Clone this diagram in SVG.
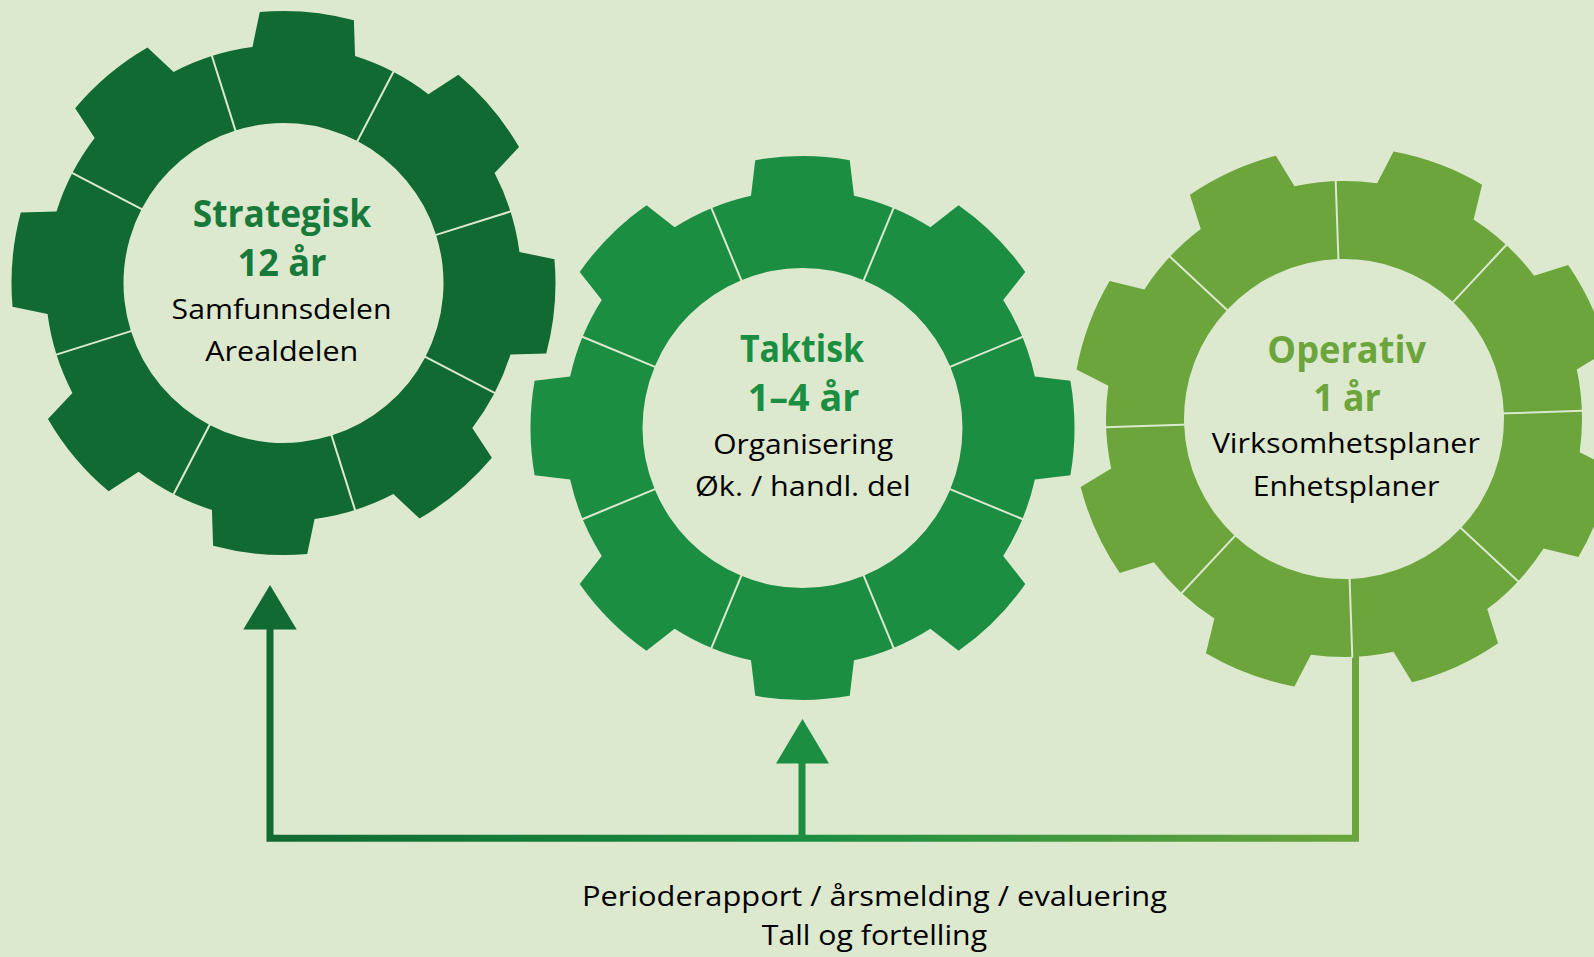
<svg xmlns="http://www.w3.org/2000/svg" xmlns:xlink="http://www.w3.org/1999/xlink" width="1594" height="957" viewBox="0 0 1594 957">
  <style>
    .bg { fill: #dce9cf; }
    .div { stroke: #dce9cf; stroke-width: 2; fill: none; }
    .title { font-family: "Open Sans", "Noto Sans", "Liberation Sans", sans-serif; font-weight: 700; font-size: 37px; text-anchor: middle; }
    .body { font-family: "Open Sans", "Noto Sans", "Liberation Sans", sans-serif; font-weight: 400; font-size: 27.5px; text-anchor: middle; fill: #000000; }
    .g1 { fill: #106a32; }
    .g2 { fill: #1b8e41; }
    .g3 { fill: #6ba53b; }
    .t1 { fill: #177a3a; }
    .t2 { fill: #1b8e41; }
    .t3 { fill: #6ba53b; }
  </style>
  <defs>
    <path id="gearShape" fill-rule="evenodd" d="M -51.51 -232.36 L -47.23 -267.87 A 272 272 0 0 1 47.23 -267.87 L 51.51 -232.36 A 238 238 0 0 1 127.88 -200.73 L 156.01 -222.81 A 272 272 0 0 1 222.81 -156.01 L 200.73 -127.88 A 238 238 0 0 1 232.36 -51.51 L 267.87 -47.23 A 272 272 0 0 1 267.87 47.23 L 232.36 51.51 A 238 238 0 0 1 200.73 127.88 L 222.81 156.01 A 272 272 0 0 1 156.01 222.81 L 127.88 200.73 A 238 238 0 0 1 51.51 232.36 L 47.23 267.87 A 272 272 0 0 1 -47.23 267.87 L -51.51 232.36 A 238 238 0 0 1 -127.88 200.73 L -156.01 222.81 A 272 272 0 0 1 -222.81 156.01 L -200.73 127.88 A 238 238 0 0 1 -232.36 51.51 L -267.87 47.23 A 272 272 0 0 1 -267.87 -47.23 L -232.36 -51.51 A 238 238 0 0 1 -200.73 -127.88 L -222.81 -156.01 A 272 272 0 0 1 -156.01 -222.81 L -127.88 -200.73 A 238 238 0 0 1 -51.51 -232.36 Z M 160 0 A 160 160 0 1 0 -160 0 A 160 160 0 1 0 160 0 Z"/>
    <g id="gearDividers" class="div">
      <line x1="59.32" y1="-143.20" x2="91.46" y2="-220.81"/>
      <line x1="143.20" y1="-59.32" x2="220.81" y2="-91.46"/>
      <line x1="143.20" y1="59.32" x2="220.81" y2="91.46"/>
      <line x1="59.32" y1="143.20" x2="91.46" y2="220.81"/>
      <line x1="-59.32" y1="143.20" x2="-91.46" y2="220.81"/>
      <line x1="-143.20" y1="59.32" x2="-220.81" y2="91.46"/>
      <line x1="-143.20" y1="-59.32" x2="-220.81" y2="-91.46"/>
      <line x1="-59.32" y1="-143.20" x2="-91.46" y2="-220.81"/>
    </g>
    <linearGradient id="feedbackGrad" gradientUnits="userSpaceOnUse" x1="266" y1="0" x2="1359" y2="0">
      <stop offset="0" stop-color="#106a32"/>
      <stop offset="0.5" stop-color="#1b8e41"/>
      <stop offset="1" stop-color="#6ba53b"/>
    </linearGradient>
  </defs>

  <rect class="bg" x="0" y="0" width="1594" height="957"/>

  <g id="connectors">
    <path d="M 270 628 V 838.3 H 1355.5 V 656" fill="none" stroke="url(#feedbackGrad)" stroke-width="7" stroke-linejoin="miter"/>
    <polygon points="270,585 243.3,629.5 296.7,629.5" fill="#106a32"/>
    <line x1="802" y1="838" x2="802" y2="762" stroke="#1b8e41" stroke-width="7"/>
    <polygon points="802.5,719 776,763.5 829,763.5" fill="#1b8e41"/>
  </g>

  <g id="gear-strategisk">
    <g transform="translate(283.5 283) rotate(5)">
      <use xlink:href="#gearShape" href="#gearShape" class="g1"/>
      <use xlink:href="#gearDividers" href="#gearDividers"/>
    </g>
    <text class="title t1" x="282" y="227" textLength="178.5" lengthAdjust="spacingAndGlyphs">Strategisk</text>
    <text class="title t1" x="282" y="276" textLength="89" lengthAdjust="spacingAndGlyphs">12 år</text>
    <text class="body" x="281.6" y="319" textLength="220" lengthAdjust="spacingAndGlyphs">Samfunnsdelen</text>
    <text class="body" x="281.8" y="361" textLength="153" lengthAdjust="spacingAndGlyphs">Arealdelen</text>
  </g>

  <g id="gear-taktisk">
    <g transform="translate(802.5 428)">
      <use xlink:href="#gearShape" href="#gearShape" class="g2"/>
      <use xlink:href="#gearDividers" href="#gearDividers"/>
    </g>
    <text class="title t2" x="802" y="362" textLength="124" lengthAdjust="spacingAndGlyphs">Taktisk</text>
    <text class="title t2" x="803.5" y="411" textLength="111.7" lengthAdjust="spacingAndGlyphs">1–4 år</text>
    <text class="body" x="803.3" y="453.5" textLength="180" lengthAdjust="spacingAndGlyphs">Organisering</text>
    <text class="body" x="802.9" y="496" textLength="215.7" lengthAdjust="spacingAndGlyphs">Øk. / handl. del</text>
  </g>

  <g id="gear-operativ">
    <g transform="translate(1344 419) rotate(20.5)">
      <use xlink:href="#gearShape" href="#gearShape" class="g3"/>
      <use xlink:href="#gearDividers" href="#gearDividers"/>
    </g>
    <text class="title t3" x="1346.7" y="362.5" textLength="158.7" lengthAdjust="spacingAndGlyphs">Operativ</text>
    <text class="title t3" x="1347" y="411" textLength="67.4" lengthAdjust="spacingAndGlyphs">1 år</text>
    <text class="body" x="1345.8" y="453" textLength="268.3" lengthAdjust="spacingAndGlyphs">Virksomhetsplaner</text>
    <text class="body" x="1346" y="495.5" textLength="186.7" lengthAdjust="spacingAndGlyphs">Enhetsplaner</text>
  </g>

  <g id="caption">
    <text class="body" x="874.4" y="905.5" textLength="585" lengthAdjust="spacingAndGlyphs">Perioderapport / årsmelding / evaluering</text>
    <text class="body" x="874.4" y="945" textLength="225.3" lengthAdjust="spacingAndGlyphs">Tall og fortelling</text>
  </g>
</svg>
